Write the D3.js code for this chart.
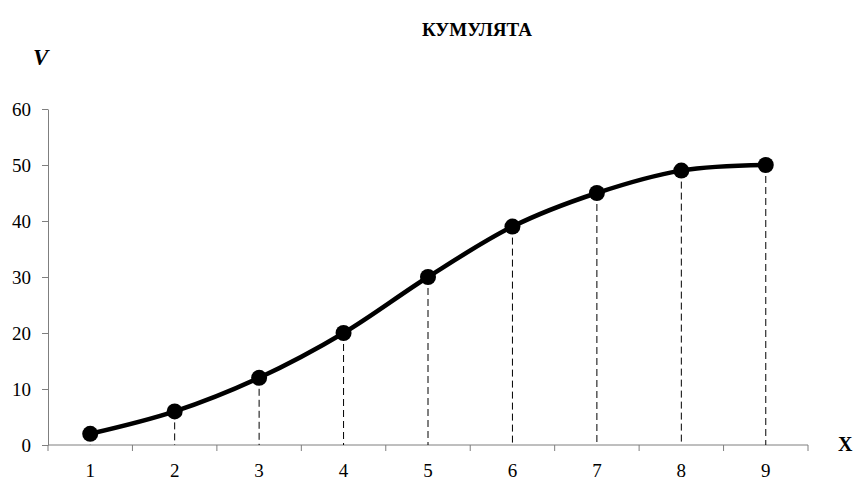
<!DOCTYPE html>
<html>
<head>
<meta charset="utf-8">
<script src="https://cdn.jsdelivr.net/npm/d3@7"></script>
<style>
  html, body { margin: 0; padding: 0; background: #fff; }
  svg { display: block; }
  text { font-family: "Liberation Serif", "Times New Roman", serif; fill: #000; }
</style>
</head>
<body>
<svg id="chart" width="857" height="482"></svg>
<script>
// Cumulative frequencies for each value of X
const categories = [1, 2, 3, 4, 5, 6, 7, 8, 9];
const cumulative = [2, 6, 12, 20, 30, 39, 45, 49, 50];
const yTicks = [0, 10, 20, 30, 40, 50, 60];
const titleText = "КУМУЛЯТА";
const yLabel = "V";
const xLabel = "X";

const serif = "Liberation Serif, Times New Roman, serif";
const plot = { left: 48, right: 808, top: 109, bottom: 445 };

const svg = d3.select("#chart");

const x = d3.scaleBand()
  .domain(categories)
  .range([plot.left, plot.right])
  .paddingInner(0)
  .paddingOuter(0);

const y = d3.scaleLinear()
  .domain([0, 60])
  .range([plot.bottom, plot.top]);

const cx = d => x(d) + x.bandwidth() / 2;
const axisColor = "#7f7f7f";

// Y axis (ticks on the left)
const yAxis = svg.append("g")
  .attr("transform", `translate(${plot.left},0)`)
  .call(d3.axisLeft(y).tickValues(yTicks).tickSize(6).tickSizeOuter(0).tickPadding(11));
yAxis.attr("font-family", serif).attr("font-size", 19);
yAxis.select(".domain").attr("stroke", axisColor);
yAxis.selectAll(".tick line").attr("stroke", axisColor);
yAxis.selectAll(".tick text")
  .attr("font-family", serif)
  .attr("font-size", 19)
  .attr("fill", "#000")
  .attr("dy", "0.34em");

// X axis: ticks between categories, labels under category centres
const boundaries = categories.map(c => x(c)).concat([plot.right]);
const xAxisG = svg.append("g");
xAxisG.append("line")
  .attr("x1", plot.left).attr("x2", plot.right)
  .attr("y1", plot.bottom).attr("y2", plot.bottom)
  .attr("stroke", axisColor);
xAxisG.selectAll("line.tick")
  .data(boundaries)
  .join("line")
  .attr("class", "tick")
  .attr("x1", d => d).attr("x2", d => d)
  .attr("y1", plot.bottom).attr("y2", plot.bottom + 6)
  .attr("stroke", axisColor);
xAxisG.selectAll("text")
  .data(categories)
  .join("text")
  .attr("x", d => cx(d))
  .attr("y", 477)
  .attr("text-anchor", "middle")
  .attr("font-family", serif)
  .attr("font-size", 19)
  .text(d => d);

// Drop lines from each point to the axis
svg.append("g")
  .selectAll("line")
  .data(categories)
  .join("line")
  .attr("x1", d => cx(d)).attr("x2", d => cx(d))
  .attr("y1", (d, i) => y(cumulative[i]))
  .attr("y2", plot.bottom)
  .attr("stroke", "#000")
  .attr("stroke-width", 1)
  .attr("stroke-dasharray", "7,4");

// Smoothed cumulative curve
const line = d3.line()
  .x((d, i) => cx(categories[i]))
  .y(d => y(d))
  .curve(d3.curveCardinal.tension(0));

svg.append("path")
  .datum(cumulative)
  .attr("d", line)
  .attr("fill", "none")
  .attr("stroke", "#000")
  .attr("stroke-width", 4.5)
  .attr("stroke-linejoin", "round");

svg.append("g")
  .selectAll("circle")
  .data(cumulative)
  .join("circle")
  .attr("cx", (d, i) => cx(categories[i]))
  .attr("cy", d => y(d))
  .attr("r", 8)
  .attr("fill", "#000");

// Title and axis names
svg.append("text")
  .attr("x", 477).attr("y", 36)
  .attr("text-anchor", "middle")
  .attr("font-family", serif)
  .attr("font-size", 19)
  .attr("font-weight", "bold")
  .text(titleText);

svg.append("text")
  .attr("x", 33).attr("y", 65)
  .attr("font-family", serif)
  .attr("font-size", 23)
  .attr("font-weight", "bold")
  .attr("font-style", "italic")
  .text(yLabel);

svg.append("text")
  .attr("x", 838).attr("y", 451)
  .attr("font-family", serif)
  .attr("font-size", 20)
  .attr("font-weight", "bold")
  .text(xLabel);
</script>
</body>
</html>
